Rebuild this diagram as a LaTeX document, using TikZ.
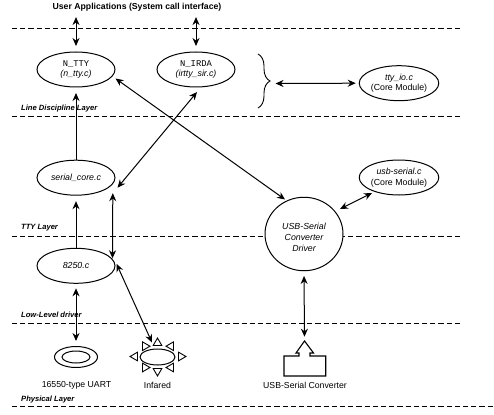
\documentclass[tikz,border=0pt]{standalone}
\usepackage{fontspec}
\setmainfont{Liberation Sans}
\setmonofont{Liberation Mono}
\usetikzlibrary{shapes.geometric,arrows.meta,decorations.pathreplacing}
\tikzset{
  layerline/.style={line width=1pt,dash pattern=on 5.2pt off 3pt},
  oval/.style={draw,line width=1pt,ellipse,minimum width=78pt,minimum height=35pt,inner sep=0pt,align=center,fill=white,font=\fontsize{8.8}{10.6}\selectfont},
  layerlabel/.style={anchor=west,inner sep=0pt,font=\fontsize{7.6}{9}\selectfont\bfseries\itshape},
  caption/.style={inner sep=0pt,font=\fontsize{8.7}{10}\selectfont},
  conn/.style={line width=1pt,{Stealth[length=8pt,width=7pt]}-{Stealth[length=8pt,width=7pt]}},
  connup/.style={line width=1pt,-{Stealth[length=8pt,width=7pt]}},
  tri/.style={draw,line width=0.9pt,regular polygon,regular polygon sides=3,minimum size=10pt,inner sep=0pt,fill=white},
}
\begin{document}
\begin{tikzpicture}[x=1pt,y=-1pt]
\useasboundingbox (0,0) rectangle (494,414);
\fill[white] (0,0) rectangle (494,414);
% layer lines
\foreach \yy in {29,116.5,236,323}{\draw[layerline] (12,\yy) -- (460,\yy);}
\draw[layerline] (12,406.5) -- (494,406.5);
% labels
\node[inner sep=0pt,font=\fontsize{8.7}{10}\selectfont\bfseries] (user) at (137,7.3) {User Applications (System call interface)};
\node[layerlabel] (l1) at (21,108.7) {Line Discipline Layer};
\node[layerlabel] (l2) at (21,227.3) {TTY Layer};
\node[layerlabel] (l3) at (21,314.3) {Low-Level driver};
\node[layerlabel] (l4) at (21,399.3) {Physical Layer};
% ovals
\node[oval] (ntty) at (76,69.5) {{\ttfamily N\_TTY}\\\textit{(n\_tty.c)}};
\node[oval] (nirda) at (196,69.5) {{\ttfamily N\_IRDA}\\\textit{(irtty\_sir.c)}};
\node[oval] (ttyio) at (399,83.2) {\textit{tty\_io.c}\\(Core Module)};
\node[oval] (core) at (76,177.7) {\textit{serial\_core.c}};
\node[oval] (usbcore) at (399,177.5) {\textit{usb-serial.c}\\(Core Module)};
\node[oval] (drv8250) at (76,265.8) {\textit{8250.c}};
\node[draw,ellipse,line width=1pt,minimum width=78pt,minimum height=73.5pt,inner sep=0pt,fill=white] (usbdrv) at (304,234) {};
\node[inner sep=0pt,align=center,font=\fontsize{8.8}{10.6}\selectfont\itshape] (usbdrvtext) at (304,237.3) {USB-Serial\\Converter\\Driver};
% brace
\draw[line width=0.9pt,decorate,decoration={brace,amplitude=12pt}] (258,54) -- (258,108);
\coordinate (bracetip) at (275.5,83.5);
% UART
\node[draw,ellipse,line width=1pt,minimum width=43pt,minimum height=21pt,inner sep=0pt] (uart) at (76,357) {};
\node[draw,ellipse,line width=1pt,minimum width=28pt,minimum height=12pt,inner sep=0pt] (uartin) at (76,357) {};
\node[caption] (uartcap) at (76.5,385) {16550-type UART};
% Infrared
\node[draw,ellipse,line width=1pt,minimum width=35pt,minimum height=16pt,inner sep=0pt] (ir) at (157.5,357) {};
\node[tri,shape border rotate=0] (t1) at (157.5,343) {};
\node[tri,shape border rotate=180] (t2) at (157.5,371) {};
\node[tri,shape border rotate=90] (t3) at (135,356.5) {};
\node[tri,shape border rotate=-90] (t4) at (181,356.5) {};
\node[tri,shape border rotate=-90] (t5) at (145,346.2) {};
\node[tri,shape border rotate=90] (t6) at (171,346.2) {};
\node[tri,shape border rotate=-90] (t7) at (145,367.5) {};
\node[tri,shape border rotate=90] (t8) at (171,367.5) {};
\node[caption] (ircap) at (157.5,385) {Infared};
% converter
\coordinate (conv) at (304.5,341);
\draw[line width=1.1pt] (284,356) -- (299,356) -- (299,353) -- (296,353) -- (conv) -- (313.5,353) -- (310,353) -- (310,356) -- (325.7,356) -- (325.7,376) -- (284,376) -- cycle;
\node[caption] (convcap) at (305,385) {USB-Serial Converter};
% connectors (yshift is in page points: negative is downward)
\draw[conn,shorten <=5.5pt,shorten >=5.5pt] (user.south -| ntty) -- (ntty.north);
\draw[conn,shorten <=5.5pt,shorten >=5.5pt] (user.south -| nirda) -- (nirda.north);
\draw[connup,shorten >=5.5pt] (core.north) -- (ntty.south);
\draw[connup,shorten >=5.5pt] (drv8250.north) -- (core.south);
\draw[conn] (bracetip) -- ([xshift=-3pt]ttyio.west);
\draw[conn] ([yshift=-9pt]ntty.east) -- ([xshift=-19pt,yshift=34.5pt]usbdrv.center);
\draw[conn] ([xshift=1pt,yshift=-4.5pt]nirda.south) -- ([xshift=2pt,yshift=-10pt]core.east);
\draw[conn] ([xshift=-2.7pt,yshift=-15.5pt]core.east) -- ([xshift=-3pt,yshift=7.5pt]drv8250.east);
\draw[conn] ([xshift=1pt,yshift=2pt]drv8250.east) -- ([xshift=-5.5pt,yshift=0.5pt]t1.center);
\draw[conn,shorten <=4.5pt,shorten >=5pt] (drv8250.south) -- (uart.north);
\draw[conn] ([xshift=-27pt,yshift=-15.5pt]usbcore.center) -- ([xshift=36pt,yshift=25pt]usbdrv.center);
\draw[conn,shorten <=4.7pt,shorten >=4.3pt] (usbdrv.south) -- (conv);
\end{tikzpicture}
\end{document}
